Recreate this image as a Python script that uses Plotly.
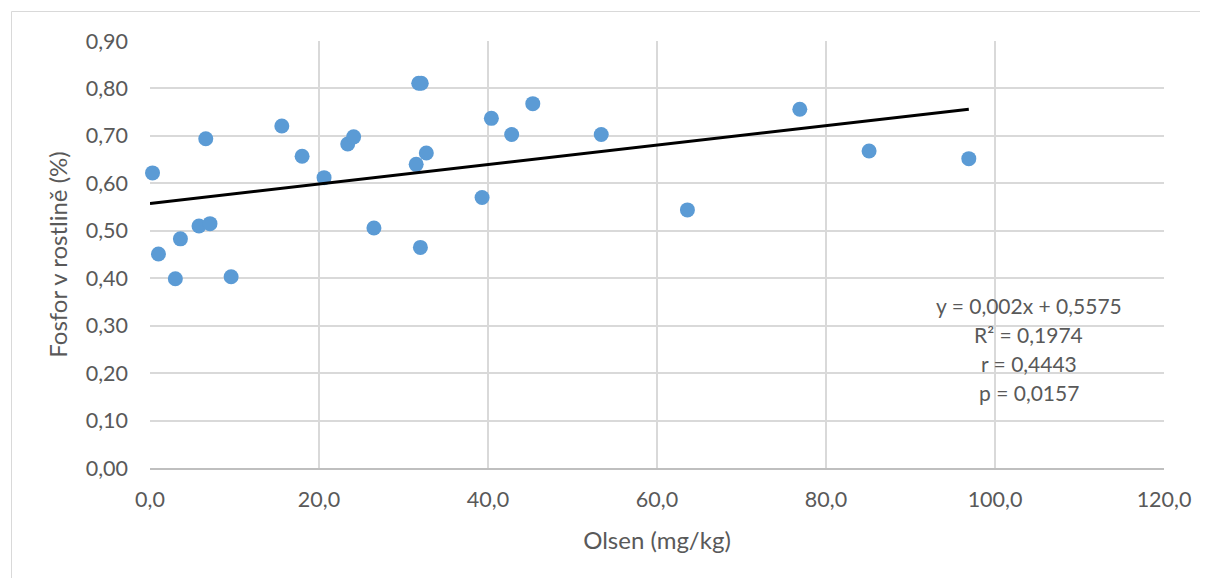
import plotly.graph_objects as go
import numpy as np

# Data
olsen = [0.3, 1.0, 3.0, 3.6, 5.8, 7.1, 6.6, 9.6, 15.6, 18.0, 20.6, 23.4, 24.1,
         26.5, 31.5, 31.8, 32.1, 32.0, 32.7, 39.3, 40.4, 42.8, 45.3, 53.4,
         63.6, 76.9, 85.1, 96.9]
fosfor = [0.622, 0.451, 0.399, 0.483, 0.510, 0.515, 0.694, 0.403, 0.721, 0.657,
          0.612, 0.683, 0.698, 0.506, 0.640, 0.811, 0.811, 0.465, 0.664, 0.570,
          0.737, 0.703, 0.768, 0.703, 0.544, 0.756, 0.668, 0.652]

trend_slope = 0.00205
trend_intercept = 0.5575
trend_label = ["y = 0,002x + 0,5575", "R² = 0,1974", "r = 0,4443", "p = 0,0157"]

x_ticks = [0, 20, 40, 60, 80, 100, 120]
x_tick_text = ["0,0", "20,0", "40,0", "60,0", "80,0", "100,0", "120,0"]
y_ticks = [0.0, 0.1, 0.2, 0.3, 0.4, 0.5, 0.6, 0.7, 0.8, 0.9]
y_tick_text = ["0,00", "0,10", "0,20", "0,30", "0,40", "0,50", "0,60", "0,70", "0,80", "0,90"]

x_title = "Olsen (mg/kg)"
y_title = "Fosfor v rostlině (%)"

FONT = "Lato"
TXT = "#595959"
GRID = "#d9d9d9"

# page has an 8px body margin; figure sized to fit the viewport
W, H = 1200, 570
L, R, T, B = 142, 44, 33, 110
PW, PH = W - L - R, H - T - B

tx = np.array([0.0, max(olsen)])
ty = trend_intercept + trend_slope * tx

fig = go.Figure()
fig.add_trace(go.Scatter(
    x=olsen, y=fosfor, mode="markers",
    marker=dict(color="#5b9bd5", size=15, line=dict(width=0)),
    showlegend=False, cliponaxis=False,
))
fig.add_trace(go.Scatter(
    x=tx, y=ty, mode="lines",
    line=dict(color="black", width=3),
    showlegend=False,
))

label_top = 0.342
label_step = 0.0607
for i, line in enumerate(trend_label):
    fig.add_annotation(
        x=104.0, y=label_top - i * label_step, xref="x", yref="y",
        text=line, showarrow=False,
        font=dict(family=FONT, size=21, color=TXT), align="center",
    )

# outer chart border (in figure pixels: x 3.5..1198.5, top 3.5)
fig.add_shape(type="rect", xref="paper", yref="paper",
              x0=(3.5 - L) / PW, x1=(1198.5 - L) / PW,
              y0=-(B + 30) / PH, y1=(PH + T - 3.5) / PH,
              line=dict(color=GRID, width=1), fillcolor="rgba(0,0,0,0)", layer="below")

fig.update_layout(
    width=W, height=H,
    margin=dict(l=L, r=R, t=T, b=B),
    paper_bgcolor="white", plot_bgcolor="white",
    font=dict(family=FONT, size=21, color=TXT),
    xaxis=dict(
        range=[0, 120], tickvals=x_ticks, ticktext=x_tick_text,
        showgrid=True, gridcolor=GRID, gridwidth=1.5,
        showline=True, linecolor="#bfbfbf", linewidth=2,
        zeroline=False, ticks="", ticklabelstandoff=11,
        title=dict(text=x_title, standoff=21, font=dict(family=FONT, size=24, color=TXT)),
        tickfont=dict(family=FONT, size=21.5, color=TXT),
    ),
    yaxis=dict(
        range=[0, 0.9], tickvals=y_ticks, ticktext=y_tick_text,
        showgrid=True, gridcolor=GRID, gridwidth=1.5,
        showline=False, zeroline=False, ticks="", ticklabelstandoff=21,
        title=dict(text=y_title, standoff=11, font=dict(family=FONT, size=24, color=TXT)),
        tickfont=dict(family=FONT, size=21.5, color=TXT),
    ),
)

fig.write_html("out.html")
